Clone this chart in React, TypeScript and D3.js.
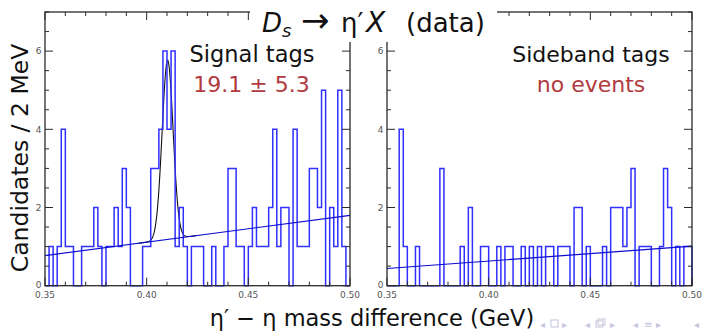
import * as d3 from "d3";

// 2 MeV bins from 0.35 to 0.50 GeV
const binLow = 0.35;
const binWidth = 0.002;

const signalCounts = [
  0, 1, 0, 1, 4, 1, 1, 0, 0, 1,
  1, 1, 2, 1, 0, 1, 1, 2, 1, 3,
  2, 0, 0, 0, 1, 1, 3, 3, 4, 6,
  4, 6, 1, 2, 1, 0, 1, 1, 1, 0,
  0, 1, 0, 0, 1, 3, 3, 1, 1, 0,
  1, 2, 1, 1, 1, 2, 4, 1, 2, 2,
  0, 4, 1, 1, 1, 3, 3, 2, 5, 0,
  2, 1, 5, 1, 0,
];

const sidebandCounts = [
  0, 0, 0, 4, 1, 0, 0, 1, 0, 0,
  0, 0, 0, 3, 0, 0, 0, 0, 1, 0,
  2, 0, 0, 1, 1, 0, 0, 1, 0, 1,
  1, 0, 0, 1, 0, 1, 0, 1, 0, 1,
  1, 0, 1, 1, 1, 0, 2, 2, 0, 1,
  0, 0, 0, 1, 0, 2, 2, 2, 1, 2,
  3, 0, 1, 1, 1, 0, 0, 1, 3, 2,
  0, 1, 0, 1, 1,
];

// linear background fit: value at 0.35 and at 0.50
const signalBg = [0.77, 1.8];
const sidebandBg = [0.44, 1.01];
// gaussian peak of the signal fit
const peakMean = 0.4103;
const peakSigma = 0.0027;
const peakHeight = 4.58;

const xTickLabels = ["0.35", "0.40", "0.45", "0.50"];
const yTickLabels = ["0", "2", "4", "6"];

const FONT = "'DejaVu Sans', sans-serif";
const TOP = 12;
const BOTTOM = 285.7;
const HIST_BLUE = "#3030ff";
const FIT_BLUE = "#0a0ad2";
const RED = "#b03a40";
const FRAME = "#2a2a2a";

interface PanelProps {
  left: number;
  right: number;
  counts: number[];
  bg: number[];
  peak?: boolean;
}

function Panel({ left, right, counts, bg, peak }: PanelProps) {
  const x = d3.scaleLinear().domain([0.35, 0.5]).range([left, right]);
  const y = d3.scaleLinear().domain([0, 7]).range([BOTTOM, TOP]);

  const pts: [number, number][] = [[binLow, 0]];
  counts.forEach((c, i) => pts.push([binLow + i * binWidth, c]));
  pts.push([binLow + counts.length * binWidth, counts[counts.length - 1]]);
  pts.push([binLow + counts.length * binWidth, 0]);
  const step = d3
    .line<[number, number]>()
    .x((d) => x(d[0]))
    .y((d) => y(d[1]))
    .curve(d3.curveStepAfter)(pts);

  const bgAt = (m: number) => bg[0] + ((m - 0.35) / 0.15) * (bg[1] - bg[0]);
  const bgLine = d3
    .line<number>()
    .x((m) => x(m))
    .y((m) => y(bgAt(m)))([0.35, 0.5]);

  const curve = peak
    ? d3
        .line<number>()
        .x((m) => x(m))
        .y((m) => y(bgAt(m) + peakHeight * Math.exp(-0.5 * ((m - peakMean) / peakSigma) ** 2)))(
        d3.range(0.396, 0.4246, 0.0002)
      )
    : null;

  const majorX = x.ticks(3);
  const minorX = x.ticks(15);
  const minorY = y.ticks(14);
  const majorY = yTickLabels.map(Number);

  return (
    <g>
      {curve && <path d={curve} fill="none" stroke="#111" strokeWidth={1.1} />}
      <path d={step ?? ""} fill="none" stroke={HIST_BLUE} strokeWidth={1.5} />
      <path d={bgLine ?? ""} fill="none" stroke={FIT_BLUE} strokeWidth={1.2} />
      <rect x={left} y={TOP} width={right - left} height={BOTTOM - TOP} fill="none" stroke={FRAME} strokeWidth={1.3} />
      {minorX.map((t) => {
        const len = majorX.some((m) => Math.abs(m - t) < 1e-9) ? 8 : 4;
        return (
          <g key={"x" + t} stroke={FRAME} strokeWidth={1}>
            <line x1={x(t)} x2={x(t)} y1={BOTTOM} y2={BOTTOM - len} />
            <line x1={x(t)} x2={x(t)} y1={TOP} y2={TOP + len} />
          </g>
        );
      })}
      {minorY.map((t) => {
        const len = majorY.includes(t) ? 8 : 4;
        return (
          <g key={"y" + t} stroke={FRAME} strokeWidth={1}>
            <line x1={left} x2={left + len} y1={y(t)} y2={y(t)} />
            <line x1={right} x2={right - len} y1={y(t)} y2={y(t)} />
          </g>
        );
      })}
      {xTickLabels.map((l) => (
        <text key={l} x={x(+l)} y={298} textAnchor="middle" fontSize={9} fill="#555" fontFamily={FONT}>
          {l}
        </text>
      ))}
      {yTickLabels.map((l) => (
        <text key={l} x={left - 3.5} y={y(+l) + (l === "0" ? 2 : 3.3)} textAnchor="end" fontSize={9} fill="#555" fontFamily={FONT}>
          {l}
        </text>
      ))}
    </g>
  );
}

export default function App() {
  return (
    <svg width={704} height={331} style={{ position: "absolute", left: 0, top: 0, background: "#fff" }}>
      <Panel left={45} right={350} counts={signalCounts} bg={signalBg} peak />
      <Panel left={387} right={692} counts={sidebandCounts} bg={sidebandBg} />

      <text x={252} y={62} textAnchor="middle" fontSize={22.5} fontFamily={FONT} fill="#111">
        Signal tags
      </text>
      <text x={251.5} y={91.5} textAnchor="middle" fontSize={22} fontFamily={FONT} fill={RED}>
        19.1 ± 5.3
      </text>
      <text x={591} y={62} textAnchor="middle" fontSize={22} fontFamily={FONT} fill="#111">
        Sideband tags
      </text>
      <text x={591} y={91.5} textAnchor="middle" fontSize={22} fontFamily={FONT} fill={RED}>
        no events
      </text>

      {/* title box */}
      <rect x={250} y={0} width={247} height={42} fill="#fff" />
      <text y={32} fontSize={26} fontFamily={FONT} fill="#111">
        <tspan x={262} fontStyle="italic">D</tspan>
        <tspan x={282} dy={5} fontSize={18} fontStyle="italic">s</tspan>
        <tspan x={301} dy={-5} fontSize={34}>→</tspan>
        <tspan x={341}>η′</tspan>
        <tspan x={366} fontSize={28} fontStyle="italic">X</tspan>
        <tspan x={406}>(data)</tspan>
      </text>

      <text
        transform="translate(28,158) rotate(-90)"
        textAnchor="middle"
        fontSize={23.5}
        fontFamily={FONT}
        fill="#111"
      >
        Candidates / 2 MeV
      </text>
      <text x={372} y={326} textAnchor="middle" fontSize={22.5} fontFamily={FONT} fill="#111">
        η′ − η mass difference (GeV)
      </text>

      {/* beamer navigation symbols */}
      <g fill="#c4c4de" fontFamily={FONT} fontSize={10}>
        <text x={540} y={328}>◂</text>
        <rect x={551} y={320} width={7} height={7} fill="none" stroke="#c4c4de" />
        <text x={562} y={328}>▸</text>
        <text x={585} y={328}>◂</text>
        <rect x={596} y={321} width={7} height={6} fill="none" stroke="#c4c4de" />
        <rect x={598} y={319} width={7} height={6} fill="none" stroke="#c4c4de" />
        <text x={610} y={328}>▸</text>
        <text x={633} y={328}>◂</text>
        <text x={644} y={328}>≡</text>
        <text x={656} y={328}>▸</text>
        <text x={694} y={328}>◂</text>
      </g>
    </svg>
  );
}
